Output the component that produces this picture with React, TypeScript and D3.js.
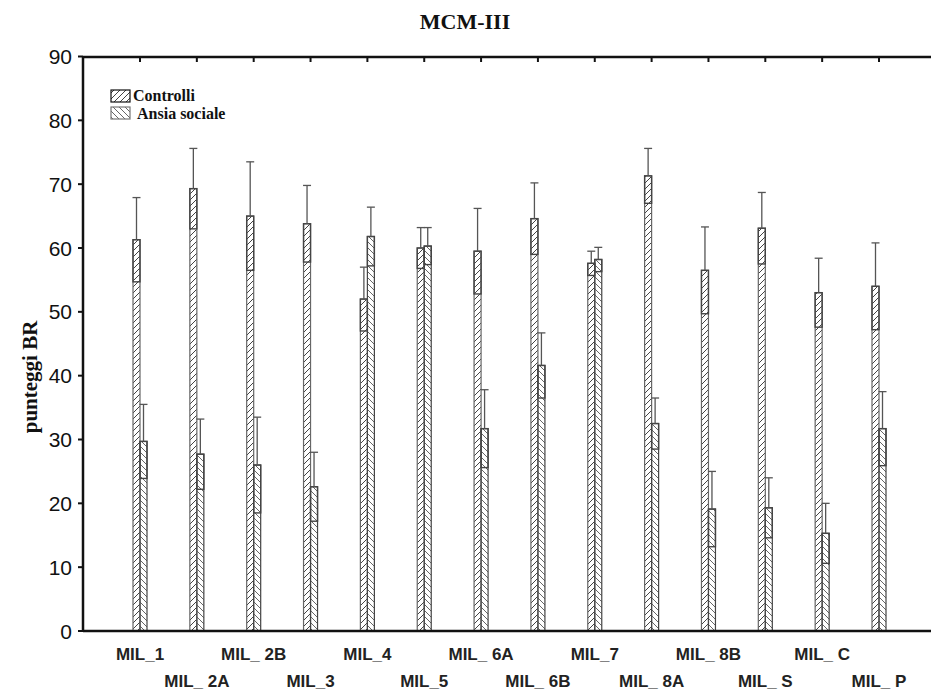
import React from "react";
import * as d3 from "d3";

const categories = ["MIL_1", "MIL_ 2A", "MIL_ 2B", "MIL_3", "MIL_4", "MIL_5", "MIL_ 6A", "MIL_ 6B", "MIL_7", "MIL_ 8A", "MIL_ 8B", "MIL_ S", "MIL_ C", "MIL_ P"];
const controlliMean = [61.3, 69.3, 65.0, 63.8, 52.0, 60.0, 59.5, 64.6, 57.6, 71.3, 56.5, 63.1, 53.0, 54.0];
const controlliErr = [6.6, 6.3, 8.5, 6.0, 5.0, 3.2, 6.7, 5.6, 1.9, 4.3, 6.8, 5.6, 5.4, 6.8];
const ansiaMean = [29.7, 27.7, 26.0, 22.6, 61.8, 60.3, 31.7, 41.6, 58.2, 32.5, 19.1, 19.3, 15.3, 31.7];
const ansiaErr = [5.8, 5.5, 7.5, 5.4, 4.6, 2.9, 6.1, 5.1, 1.9, 4.0, 5.9, 4.7, 4.7, 5.8];
const yTicks = [0, 10, 20, 30, 40, 50, 60, 70, 80, 90];
const seriesNames = ["Controlli", "Ansia sociale"];

const W = 931, H = 694;
const left = 83, bottom = 631, top = 57;
const serif = "Liberation Serif, Times New Roman, serif";
const sans = "Liberation Sans, Arial, sans-serif";

export default function App() {
  const x = d3.scalePoint<string>().domain(categories).range([140, 879]);
  const y = d3.scaleLinear().domain([0, 90]).range([bottom, 56.5]);
  const bw = 7;

  const renderBar = (cx: number, mean: number, err: number, fill: string, stroke: string, key: string) => {
    const yt = y(mean);
    const yb = y(0);
    const ylo = y(mean - err);
    const yhi = y(mean + err);
    return (
      <g key={key}>
        <rect x={cx} y={yt} width={bw} height={yb - yt} fill={fill} stroke={stroke} strokeWidth={1.2} />
        <rect x={cx} y={yt} width={bw} height={ylo - yt} fill="none" stroke="#444" strokeWidth={1.4} />
        <line x1={cx + bw / 2} x2={cx + bw / 2} y1={yt} y2={yhi} stroke="#555" strokeWidth={1.3} />
        <line x1={cx + bw / 2 - 4} x2={cx + bw / 2 + 4} y1={yhi} y2={yhi} stroke="#555" strokeWidth={1.3} />
      </g>
    );
  };

  return (
    <div style={{ position: "absolute", left: 0, top: 0 }}>
      <svg width={W} height={H} style={{ display: "block", background: "#fff" }}>
        <defs>
          <pattern id="hatchC" patternUnits="userSpaceOnUse" width={6} height={6}>
            <path d="M-1,7 L7,-1 M-1,1 L1,-1 M5,7 L7,5" stroke="#444" strokeWidth={1} />
          </pattern>
          <pattern id="hatchA" patternUnits="userSpaceOnUse" width={6} height={6}>
            <path d="M-1,-1 L7,7 M-1,5 L1,7 M5,-1 L7,1" stroke="#666" strokeWidth={1} />
          </pattern>
        </defs>

        <text x={465} y={29} textAnchor="middle" fontFamily={serif} fontWeight="bold" fontSize={22} fill="#111">MCM-III</text>

        {categories.map((c, i) => {
          const cx = x(c)!;
          return (
            <g key={c}>
              {renderBar(cx - bw, controlliMean[i], controlliErr[i], "url(#hatchC)", "#666", "c" + i)}
              {renderBar(cx, ansiaMean[i], ansiaErr[i], "url(#hatchA)", "#444", "a" + i)}
            </g>
          );
        })}

        <line x1={left} x2={W} y1={top} y2={top} stroke="#111" strokeWidth={2.5} />
        <line x1={left} x2={W} y1={bottom} y2={bottom} stroke="#111" strokeWidth={2.5} />
        <line x1={left} x2={left} y1={top - 1} y2={bottom + 1} stroke="#111" strokeWidth={2.5} />

        {categories.map((c) => (
          <line key={"tt" + c} x1={x(c)!} x2={x(c)!} y1={top} y2={top + 5} stroke="#111" strokeWidth={2} />
        ))}

        {yTicks.map((t) => (
          <g key={"yt" + t}>
            <line x1={left - 5} x2={left} y1={y(t)} y2={y(t)} stroke="#111" strokeWidth={2} />
            <text x={72} y={y(t) + 7.5} textAnchor="end" fontFamily={sans} fontSize={21} fill="#111">{t}</text>
          </g>
        ))}

        {categories.map((c, i) => (
          <text key={"xl" + c} x={x(c)!} y={i % 2 === 0 ? 660 : 687} textAnchor="middle" fontFamily={sans} fontWeight="bold" fontSize={17} fill="#222">{c}</text>
        ))}

        <text transform={`translate(37,377) rotate(-90)`} textAnchor="middle" fontFamily={serif} fontWeight="bold" fontSize={21} fill="#111">punteggi BR</text>

        <rect x={111} y={90} width={19} height={12} fill="url(#hatchC)" stroke="#111" strokeWidth={1.2} />
        <text x={133} y={101} fontFamily={serif} fontWeight="bold" fontSize={16} fill="#111">{seriesNames[0]}</text>
        <rect x={111} y={107} width={19} height={12} fill="url(#hatchA)" stroke="#777" strokeWidth={1.2} />
        <text x={137} y={119} fontFamily={serif} fontWeight="bold" fontSize={16} fill="#111">{seriesNames[1]}</text>
      </svg>
    </div>
  );
}
